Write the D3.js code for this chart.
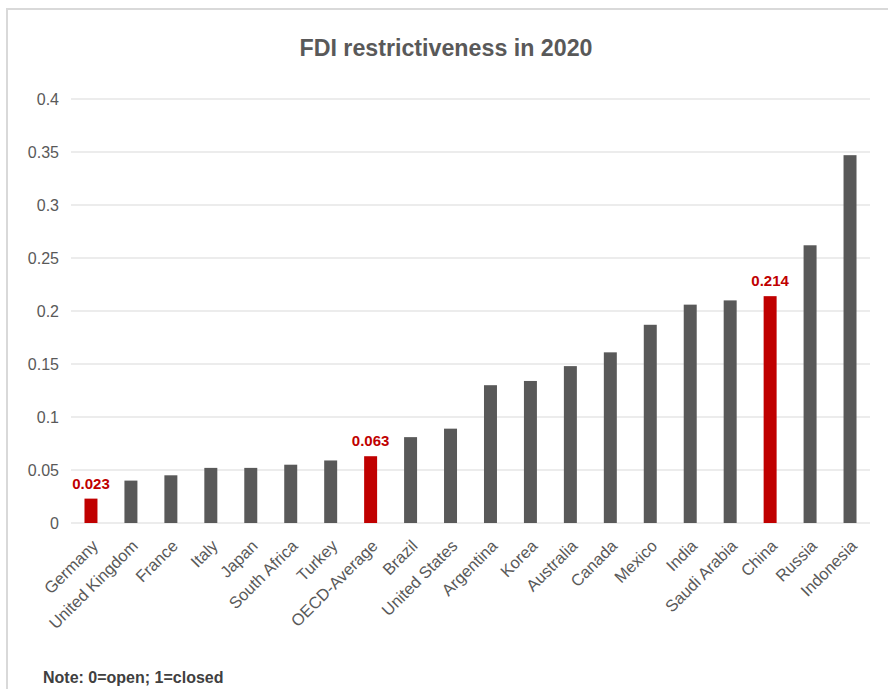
<!DOCTYPE html>
<html>
<head>
<meta charset="utf-8">
<script src="https://cdn.jsdelivr.net/npm/d3@7"></script>
<style>
  html, body { margin: 0; padding: 0; background: #fff; }
  svg { display: block; font-family: "Liberation Sans", Arial, sans-serif; }
</style>
</head>
<body>
<svg id="chart" width="888" height="689"></svg>
<script>
const categories = ["Germany","United Kingdom","France","Italy","Japan","South Africa","Turkey","OECD-Average","Brazil","United States","Argentina","Korea","Australia","Canada","Mexico","India","Saudi Arabia","China","Russia","Indonesia"];
const values = [0.023,0.040,0.045,0.052,0.052,0.055,0.059,0.063,0.081,0.089,0.130,0.134,0.148,0.161,0.187,0.206,0.210,0.214,0.262,0.347];
const highlighted = ["Germany","OECD-Average","China"];
const yTicks = [0,0.05,0.1,0.15,0.2,0.25,0.3,0.35,0.4];
const titleText = "FDI restrictiveness in 2020";
const noteText = "Note: 0=open; 1=closed";

const svg = d3.select("#chart");
const W = 888, H = 689;
const m = {left: 71, right: 18, top: 99, bottom: 166};

// frame
svg.append("path")
  .attr("d", `M7,${H} V9 H${W}`)
  .attr("fill", "none").attr("stroke", "#d9d9d9").attr("stroke-width", 2);

const x = d3.scaleBand().domain(categories).range([m.left, W - m.right]).paddingInner(0.675).paddingOuter(0.3375);
const y = d3.scaleLinear().domain([0, 0.4]).range([H - m.bottom, m.top]);

// gridlines
svg.append("g").selectAll("line").data(yTicks).join("line")
  .attr("x1", m.left).attr("x2", W - m.right)
  .attr("y1", d => y(d)).attr("y2", d => y(d))
  .attr("stroke", "#d9d9d9").attr("stroke-width", 1);

// y axis
const yAxis = svg.append("g").attr("transform", `translate(${m.left},0)`)
  .call(d3.axisLeft(y).tickValues(yTicks).tickSize(0).tickPadding(12).tickFormat(d => d3.format("")(+d.toFixed(2))));
yAxis.select(".domain").remove();
yAxis.selectAll("text").attr("fill", "#595959").attr("font-size", 16);

// bars
svg.append("g").selectAll("rect").data(categories).join("rect")
  .attr("x", d => x(d)).attr("width", x.bandwidth())
  .attr("y", (d, i) => y(values[i])).attr("height", (d, i) => y(0) - y(values[i]))
  .attr("fill", d => highlighted.includes(d) ? "#c00000" : "#595959");

// value labels for highlighted
svg.append("g").selectAll("text").data(categories.filter(c => highlighted.includes(c))).join("text")
  .attr("x", d => x(d) + x.bandwidth() / 2)
  .attr("y", d => y(values[categories.indexOf(d)]) - 10)
  .attr("text-anchor", "middle").attr("font-size", 15).attr("font-weight", "bold")
  .attr("fill", "#c00000")
  .text(d => values[categories.indexOf(d)].toFixed(3));

// x axis labels
const xAxis = svg.append("g").attr("transform", `translate(0,${y(0)})`)
  .call(d3.axisBottom(x).tickSize(0).tickPadding(0));
xAxis.select(".domain").remove();
xAxis.selectAll("text")
  .attr("fill", "#595959").attr("font-size", 16.5)
  .attr("text-anchor", "end")
  .attr("dy", 0)
  .attr("transform", "translate(8,24) rotate(-45)");

// title
svg.append("text").attr("x", 446).attr("y", 56)
  .attr("text-anchor", "middle").attr("font-size", 24).attr("font-weight", "bold")
  .attr("fill", "#595959")
  .attr("textLength", 293).attr("lengthAdjust", "spacingAndGlyphs")
  .text(titleText);

// note
svg.append("text").attr("x", 43).attr("y", 683)
  .attr("font-size", 16).attr("font-weight", "bold").attr("fill", "#404040")
  .text(noteText);
</script>
</body>
</html>
